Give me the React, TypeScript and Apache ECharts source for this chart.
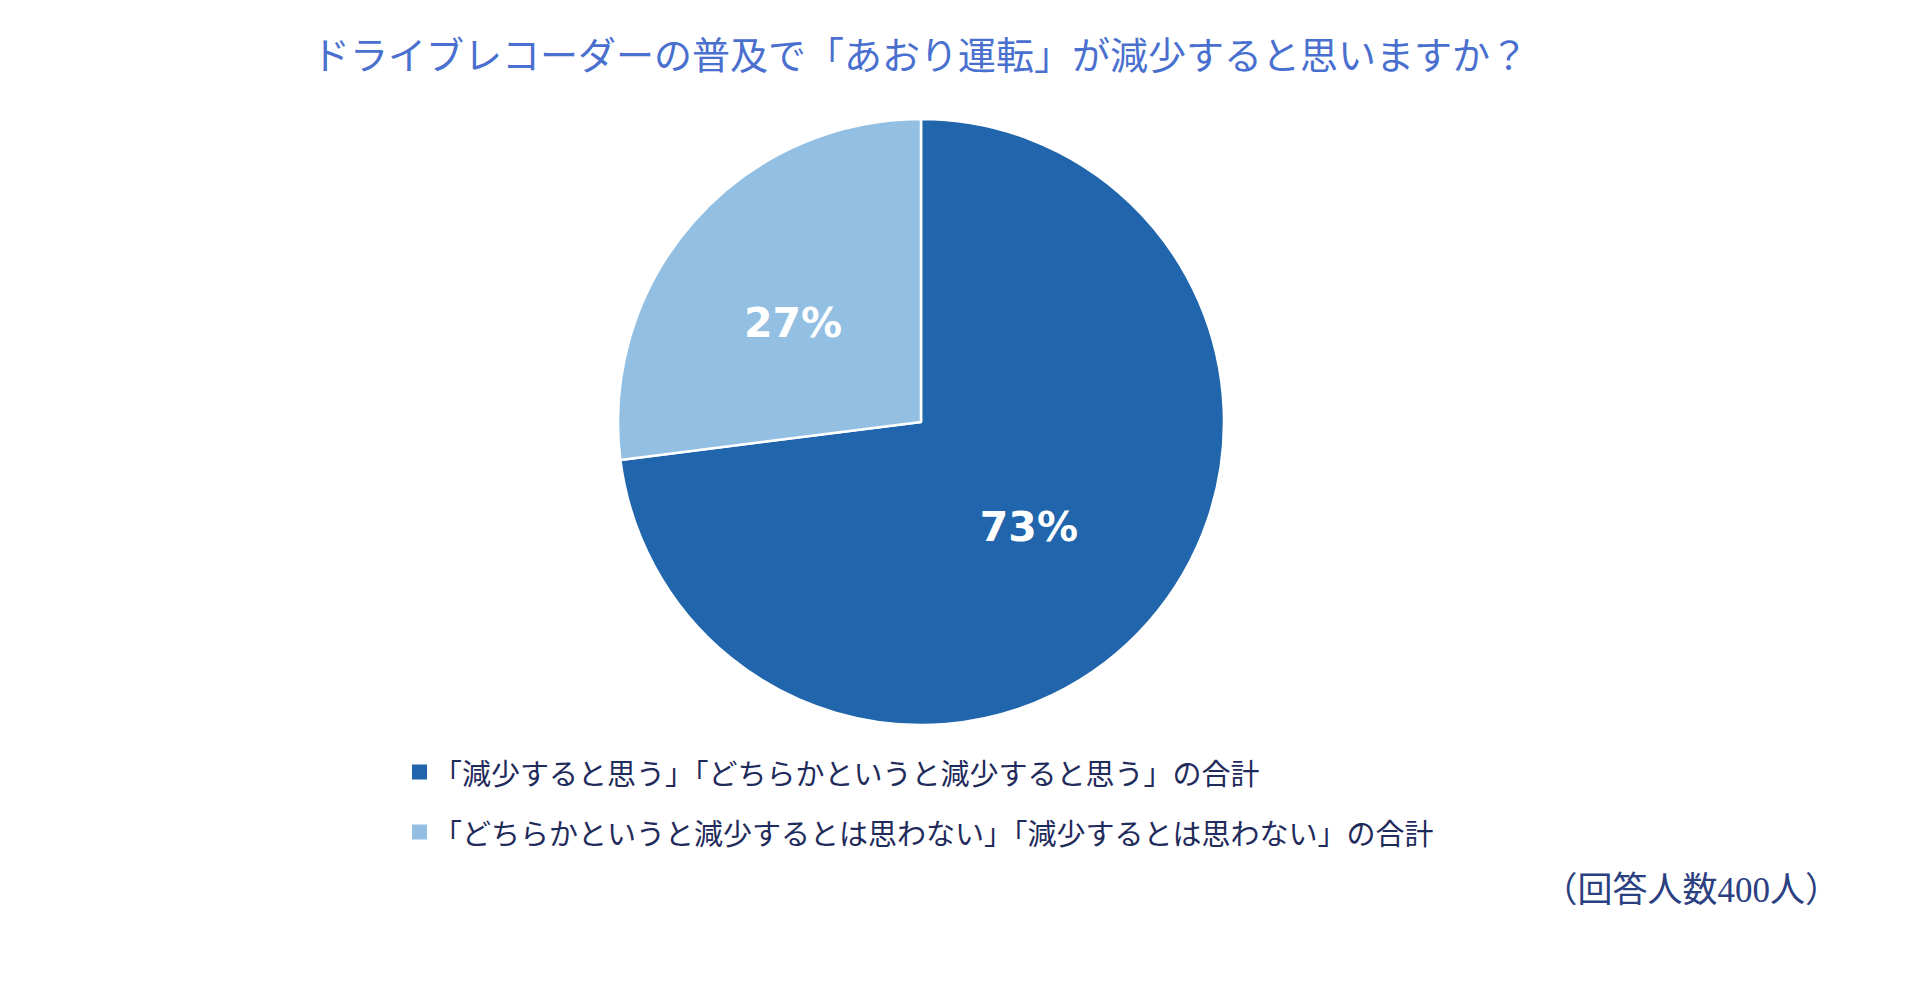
import React, { useEffect, useRef } from 'react';
import * as echarts from 'echarts';

const title = 'ドライブレコーダーの普及で「あおり運転」が減少すると思いますか？';
const categories = [
  '「減少すると思う」「どちらかというと減少すると思う」の合計',
  '「どちらかというと減少するとは思わない」「減少するとは思わない」の合計',
];
const values = [73, 27];
const colors = ['#2166AC', '#93BFE3'];
const note = '（回答人数400人）';

const JP = '"Noto Sans CJK JP", "Noto Sans", sans-serif';

// nudges so the inside labels sit where the original puts them
const labelOffsets = [
  [-8, 3],
  [-12, 3],
];

const App: React.FC = () => {
  const chartRef = useRef<HTMLDivElement>(null);

  useEffect(() => {
    if (!chartRef.current) return;
    const chart = echarts.init(chartRef.current, null, { renderer: 'svg' });
    const option = {
      animation: false,
      backgroundColor: '#ffffff',
      title: {
        text: title,
        left: 312,
        top: 33,
        padding: 0,
        textStyle: {
          fontFamily: JP,
          fontSize: 38,
          fontWeight: 'normal',
          color: '#4A70CF',
        },
      },
      legend: {
        orient: 'vertical',
        left: 410,
        top: 757,
        padding: 0,
        icon: 'rect',
        itemWidth: 17,
        itemHeight: 17,
        itemGap: 30,
        data: categories,
        textStyle: {
          fontFamily: JP,
          fontSize: 29,
          lineHeight: 30,
          color: '#1F2B5B',
        },
      },
      graphic: [
        {
          type: 'text',
          right: 80,
          top: 873,
          style: {
            text: note,
            font: `35px "Liberation Serif", ${JP}`,
            fill: '#2B4080',
          },
        },
      ],
      series: [
        {
          type: 'pie',
          center: [921, 422],
          radius: [0, 303],
          startAngle: 90,
          clockwise: true,
          avoidLabelOverlap: false,
          itemStyle: { borderColor: '#ffffff', borderWidth: 2.5 },
          label: {
            show: true,
            position: 'inside',
            formatter: '{c}%',
            color: '#ffffff',
            fontFamily: '"DejaVu Sans", sans-serif',
            fontWeight: 'bold',
            fontSize: 41,
          },
          labelLine: { show: false },
          emphasis: { disabled: true },
          data: categories.map((name, i) => ({
            name,
            value: values[i],
            itemStyle: { color: colors[i] },
            label: { offset: labelOffsets[i] },
          })),
        },
      ],
    };
    chart.setOption(option as any);
    return () => {
      chart.dispose();
    };
  }, []);

  return (
    <div
      ref={chartRef}
      style={{ position: 'fixed', left: 0, top: 0, width: 1920, height: 984 }}
    />
  );
};

export default App;
